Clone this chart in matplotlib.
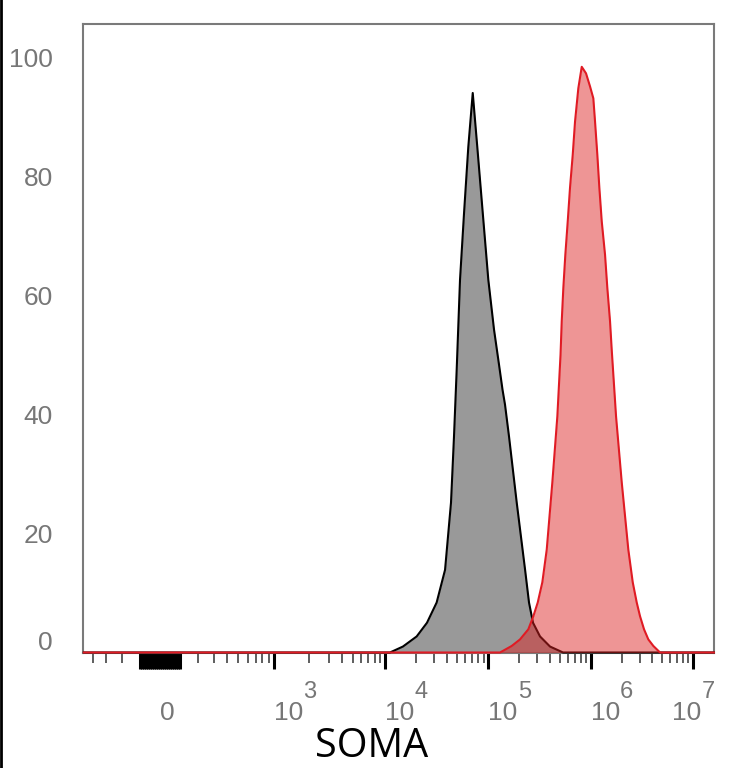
import numpy as np
import matplotlib
matplotlib.use("Agg")
import matplotlib.pyplot as plt
from matplotlib.transforms import ScaledTranslation
from matplotlib.lines import Line2D

plt.rcParams['font.family'] = ['Liberation Sans', 'DejaVu Sans']

# ---------------- data ----------------
gray_x = [-480, 11200, 14900, 20200, 25400, 31500, 38000, 43400, 46400, 49300,
          53100, 58100, 63900, 70600, 78200, 88300, 100100, 113800, 127300,
          137700, 145600, 159400, 189500, 228300, 249700, 273300, 319900,
          400600, 536600, 1.6e7]
gray_y = [0, 0, 1.0, 2.7, 5.0, 8.4, 13.9, 25.2, 36.3, 47.6,
          62.7, 73.9, 85.0, 94.1, 85.0, 74.0, 62.7, 54.3, 48.4,
          44.2, 41.7, 36.3, 25.2, 14.0, 8.4, 5.0, 2.7,
          1.0, 0, 0]

red_x = [-480, 130200, 169300, 204000, 245900, 275200, 303700, 336800, 371900,
         421800, 472100, 507300, 521100, 540200, 565100, 596400, 628000,
         667400, 702900, 757100, 817400, 900000, 985100, 1061100, 1102400,
         1161100, 1214500, 1282000, 1380700, 1454000, 1544900, 1605000,
         1769000, 2011000, 2331600, 2575300, 2817500, 3034500, 3320500,
         3658100, 4094200, 4761300, 1.6e7]
red_y = [0, 0, 1.1, 2.2, 3.9, 6.1, 8.4, 11.8, 17.3,
         28.6, 39.7, 50.1, 55.7, 61.3, 66.9, 72.5, 78.2,
         83.7, 89.3, 94.9, 98.5, 97.4, 95.2, 93.2, 89.3,
         83.7, 78.2, 72.5, 66.9, 61.3, 55.7, 50.9,
         39.7, 28.6, 17.3, 11.8, 8.4, 6.1, 3.9,
         2.2, 1.1, 0, 0]

y_ticks = [0, 20, 40, 60, 80, 100]
y_tick_labels = ['0', '20', '40', '60', '80', '100']
decades = [3, 4, 5, 6, 7]
x_label = 'SOMA'

# ---------------- biexponential (logicle-like) scale ----------------
P = 2.58
C = 61.66

def _inv(d):
    d = np.asarray(d, dtype=float)
    a = np.abs(d)
    return np.sign(d) * C * (10.0 ** a - P ** 2 * 10.0 ** (-a / P) + P ** 2 - 1)

_grid = np.linspace(0, 8, 40001)
_xg = _inv(_grid)

def _fwd(x):
    x = np.asarray(x, dtype=float)
    return np.sign(x) * np.interp(np.abs(x), _xg, _grid)

# ---------------- figure ----------------
fig = plt.figure(figsize=(7.34, 7.68), dpi=100)
ax = fig.add_axes([83 / 734, 1 - 652.5 / 768, 631 / 734, 628.5 / 768])
ax.set_xscale('function', functions=(_fwd, _inv))
ax.set_xlim(float(_inv(-0.7527)), float(_inv(5.415)))
ax.set_ylim(0, 105.7)

ax.fill_between(gray_x, gray_y, 0, color='#999999', lw=0, zorder=2)
ax.plot(gray_x, gray_y, color='black', lw=1.5, zorder=3, clip_on=False)
ax.fill_between(red_x, red_y, 0, color='#dd2222', alpha=0.48, lw=0, zorder=3.2)
ax.plot(red_x, red_y, color='#e01b24', lw=1.5, zorder=4, clip_on=False)

for s in ax.spines.values():
    s.set_color('#7a7a7a')
    s.set_linewidth(1.5)

# y axis
ax.set_yticks(y_ticks)
ax.set_yticklabels(y_tick_labels)
ax.tick_params(axis='y', length=0, pad=21.6, labelsize=19, labelcolor='#777777')
ylabs = ax.get_yticklabels()
ylabs[0].set_transform(ylabs[0].get_transform() +
                       ScaledTranslation(0, 0.115, fig.dpi_scale_trans))

# x axis ticks
block = list(range(-100, 101, 10))
dec_vals = [10.0 ** k for k in decades]
major = block + dec_vals
major_labels = ['0' if v == 0 else '' for v in block] + ['10' for _ in decades]
minor = [-400, -300, -200] + list(range(200, 1000, 100))
for k in range(3, 7):
    minor += [m * 10.0 ** k for m in range(2, 10)]
ax.set_xticks(major)
ax.set_xticklabels(major_labels)
ax.set_xticks(minor, minor=True)
ax.tick_params(axis='x', which='major', direction='out', length=11.5, width=2.2,
               color='black', pad=37, labelsize=19, labelcolor='#777777')
ax.tick_params(axis='x', which='minor', direction='out', length=7.2, width=1.1,
               color='#333333')
xlabs = ax.get_xticklabels()
for lab in xlabs:
    lab.set_va('baseline')
    lab.set_ha('left')
xlabs[-1].set_transform(xlabs[-1].get_transform() +
                        ScaledTranslation(-0.21, 0, fig.dpi_scale_trans))

# exponents of the decade labels
for i, (k, v) in enumerate(zip(decades, dec_vals)):
    dx = 0.295 if i < len(decades) - 1 else 0.085
    tr = ax.get_xaxis_transform() + ScaledTranslation(dx, -0.455, fig.dpi_scale_trans)
    ax.text(v, 0, str(k), transform=tr, ha='left', va='baseline',
            fontsize=17, color='#777777', clip_on=False)

ax.set_xlabel(x_label, fontsize=28.5, family=['Open Sans', 'DejaVu Sans'], color='black')
ax.xaxis.set_label_coords(0.4572, -0.1655)
ax.xaxis.label.set_va('baseline')

fig.add_artist(Line2D([1.3 / 734, 1.3 / 734], [0, 1], transform=fig.transFigure,
                      color='black', lw=2.0))

fig.savefig('out.png', dpi=100)
